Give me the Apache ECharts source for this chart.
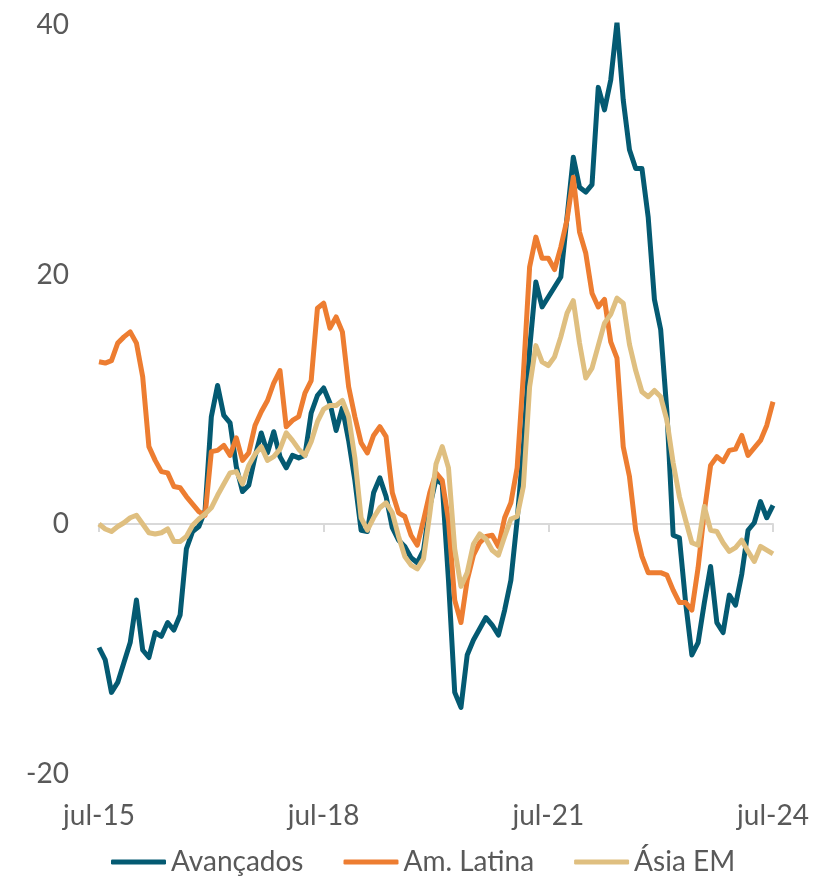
<!DOCTYPE html>
<html>
<head>
<meta charset="utf-8">
<script src="https://cdn.jsdelivr.net/npm/echarts@6/dist/echarts.min.js"></script>
<style>
  html, body { margin: 0; padding: 0; background: #fff; }
  #main { width: 815px; height: 884px; }
</style>
</head>
<body>
<div id="main"></div>
<script>
// meses jul-15 .. jul-24
const monthNames = ['jan', 'fev', 'mar', 'abr', 'mai', 'jun', 'jul', 'ago', 'set', 'out', 'nov', 'dez'];
const months = [];
for (let k = 0; k < 109; k++) {
  const m = (6 + k) % 12;
  const y = 15 + Math.floor((6 + k) / 12);
  months.push(monthNames[m] + '-' + y);
}

const avancados = [
  -9.9, -10.9, -13.5, -12.7, -11.1, -9.5, -6.1, -10.1, -10.7, -8.7,
  -9.0, -7.9, -8.5, -7.3, -2.0, -0.6, -0.2, 1.1, 8.6, 11.1,
  8.7, 8.1, 4.6, 2.6, 3.1, 5.4, 7.3, 5.7, 7.4, 5.4,
  4.5, 5.5, 5.3, 5.5, 8.9, 10.3, 10.9, 9.7, 7.5, 9.3,
  6.7, 3.5, -0.5, -0.6, 2.5, 3.7, 2.2, -0.3, -1.3, -1.8,
  -2.7, -3.1, -2.1, 1.4, 3.6, 3.2, -4.5, -13.5, -14.7, -10.5,
  -9.3, -8.4, -7.5, -8.1, -8.9, -6.9, -4.5, 0.3, 6.2, 14.0,
  19.4, 17.4, 18.2, 19.0, 19.8, 24.6, 29.4, 27.0, 26.6, 27.2,
  35.0, 33.2, 35.6, 40.2, 34.0, 30.0, 28.5, 28.5, 24.6, 18.0,
  15.6, 9.0, -0.9, -1.1, -6.3, -10.5, -9.5, -6.3, -3.4, -7.9,
  -8.7, -5.7, -6.5, -4.0, -0.5, 0.1, 1.8, 0.5, 1.5
];

const amLatina = [
  13.0, 12.9, 13.1, 14.5, 15.0, 15.4, 14.5, 11.8, 6.2, 5.1,
  4.2, 4.1, 3.0, 2.9, 2.2, 1.6, 1.0, 0.7, 5.8, 5.9,
  6.3, 5.5, 6.9, 5.1, 5.7, 7.9, 9.0, 9.9, 11.3, 12.3,
  7.8, 8.3, 8.6, 10.5, 11.5, 17.3, 17.7, 15.7, 16.6, 15.4,
  11.0, 8.6, 6.5, 5.7, 7.1, 7.8, 7.0, 2.5, 0.9, 0.6,
  -0.9, -1.7, 0.3, 2.5, 4.1, 3.5, 0.3, -6.1, -7.9, -4.5,
  -2.5, -1.5, -1.0, -0.9, -1.8, 0.5, 1.7, 4.5, 12.0, 20.6,
  23.0, 21.3, 21.3, 20.4, 22.2, 24.4, 27.8, 23.4, 21.7, 18.5,
  17.4, 18.0, 14.6, 13.3, 6.2, 3.8, -0.5, -2.6, -3.9, -3.9,
  -3.9, -4.1, -5.3, -6.3, -6.3, -6.9, -3.5, 1.0, 4.7, 5.4,
  5.0, 5.9, 6.0, 7.1, 5.5, 6.1, 6.7, 7.9, 9.8
];

const asiaEM = [
  0.0, -0.4, -0.6, -0.2, 0.1, 0.5, 0.7, 0.0, -0.7, -0.8,
  -0.7, -0.4, -1.4, -1.4, -1.0, -0.1, 0.4, 0.8, 1.3, 2.3,
  3.2, 4.1, 4.2, 3.2, 4.7, 5.6, 6.2, 5.1, 5.4, 6.0,
  7.3, 6.7, 6.0, 5.5, 6.6, 8.2, 9.2, 9.5, 9.5, 9.9,
  8.6, 5.3, 0.5, -0.5, 0.5, 1.3, 1.7, 0.9, -1.0, -2.6,
  -3.3, -3.6, -2.8, 0.8, 4.8, 6.2, 4.5, -2.0, -5.0, -3.9,
  -1.6, -0.8, -1.2, -2.1, -2.5, -1.0, 0.4, 0.6, 3.0, 11.0,
  14.3, 13.0, 12.7, 13.4, 15.0, 16.9, 17.9, 14.5, 11.7, 12.5,
  14.3, 16.1, 16.8, 18.1, 17.7, 14.4, 12.3, 10.6, 10.2, 10.7,
  10.2, 8.3, 4.9, 2.2, 0.3, -1.5, -1.7, 1.4, -0.5, -0.6,
  -1.5, -2.2, -1.9, -1.3, -2.2, -3.0, -1.8, -2.1, -2.4
];

const seriesNames = ['Avançados', 'Am. Latina', 'Ásia EM'];
const colors = ['#045A72', '#ED7D31', '#DFBF80'];

const fontFamily = 'Lato, "Open Sans", sans-serif';
const labelStyle = { color: '#595959', fontSize: 28, fontFamily: fontFamily };

const myChart = echarts.init(document.getElementById('main'));

const makeLine = (name, data, color) => ({
  name: name,
  type: 'line',
  xAxisIndex: 0,
  yAxisIndex: 0,
  data: data,
  showSymbol: false,
  symbol: 'none',
  lineStyle: { color: color, width: 5, join: 'round' },
  itemStyle: { color: color },
  animation: false
});

const option = {
  backgroundColor: '#fff',
  animation: false,
  color: colors,
  grid: { left: 99, right: 42, top: 25, bottom: 110.5, containLabel: false },
  legend: {
    left: 106,
    top: 843,
    icon: 'roundRect',
    itemWidth: 55,
    itemHeight: 5,
    itemGap: 40,
    textStyle: labelStyle,
    data: seriesNames
  },
  xAxis: [
    {
      type: 'category',
      data: months,
      boundaryGap: false,
      position: 'bottom',
      axisLine: { show: false, onZero: false },
      axisTick: { show: false },
      splitLine: { show: false },
      axisLabel: { interval: 35, margin: 28, ...labelStyle }
    },
    {
      // linha do zero com marcas
      type: 'category',
      data: months,
      boundaryGap: false,
      position: 'bottom',
      axisLine: { show: true, onZero: true, lineStyle: { color: '#D9D9D9', width: 2 } },
      axisTick: { show: true, interval: 35, length: 8, lineStyle: { color: '#D9D9D9', width: 2 } },
      axisLabel: { show: false },
      splitLine: { show: false }
    }
  ],
  yAxis: {
    type: 'value',
    min: -20,
    max: 40,
    interval: 20,
    axisLine: { show: false },
    axisTick: { show: false },
    splitLine: { show: false },
    axisLabel: { margin: 30, ...labelStyle }
  },
  series: [
    makeLine(seriesNames[0], avancados, colors[0]),
    makeLine(seriesNames[1], amLatina, colors[1]),
    makeLine(seriesNames[2], asiaEM, colors[2])
  ]
};

myChart.setOption(option);
</script>
</body>
</html>
